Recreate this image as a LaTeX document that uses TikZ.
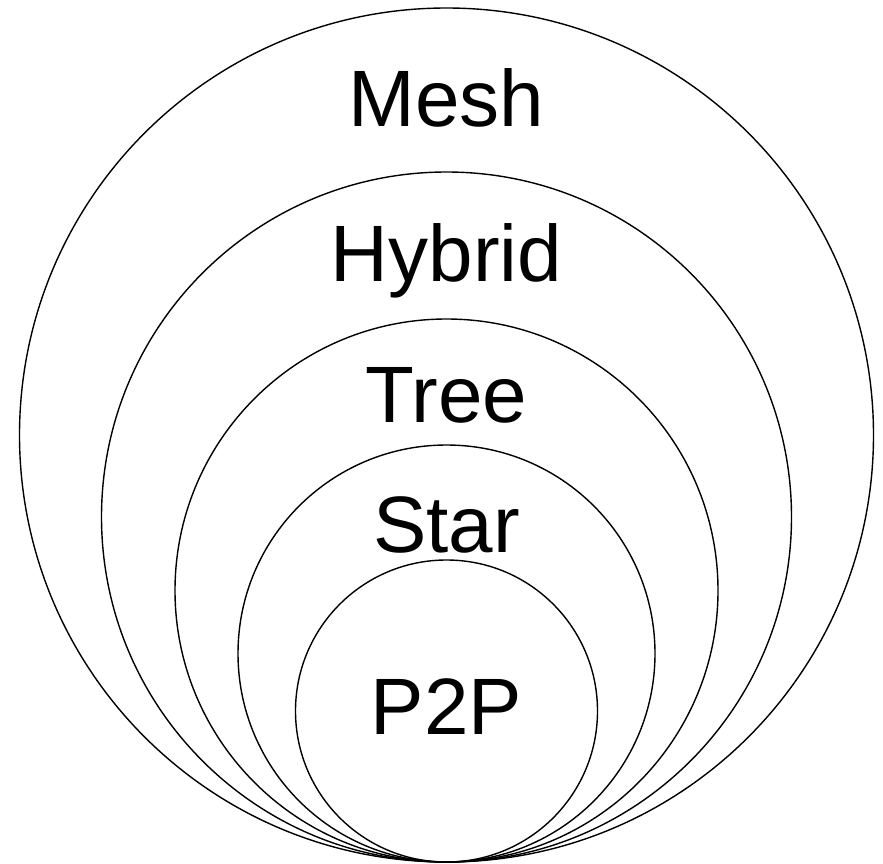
\documentclass[tikz,border=0pt]{standalone}
\usepackage{fontspec}
\setmainfont{Liberation Sans}
\begin{document}
\begin{tikzpicture}[x=1pt,y=-1pt,
  ring/.style={draw=black,line width=1.4pt},
  lbl/.style={anchor=base,inner sep=0pt,font=\fontsize{80}{96}\selectfont}]
\useasboundingbox (0,0) rectangle (883,864);
\draw[ring] (446.5,435) circle[radius=427pt];
\draw[ring] (446.5,517) circle[radius=345pt];
\draw[ring] (446.5,590.5) circle[radius=271.5pt];
\draw[ring] (446.5,653.5) circle[radius=208.5pt];
\draw[ring] (446.5,711) circle[radius=151pt];
\node[lbl] (mesh) at (446.5,127) {Mesh};
\node[lbl] (hybrid) at (446.5,281) {Hybrid};
\node[lbl] (tree) at (446.5,422) {Tree};
\node[lbl] (star) at (446.5,552) {Star};
\node[lbl] (p2p) at (446.5,734) {P2P};
\end{tikzpicture}
\end{document}
